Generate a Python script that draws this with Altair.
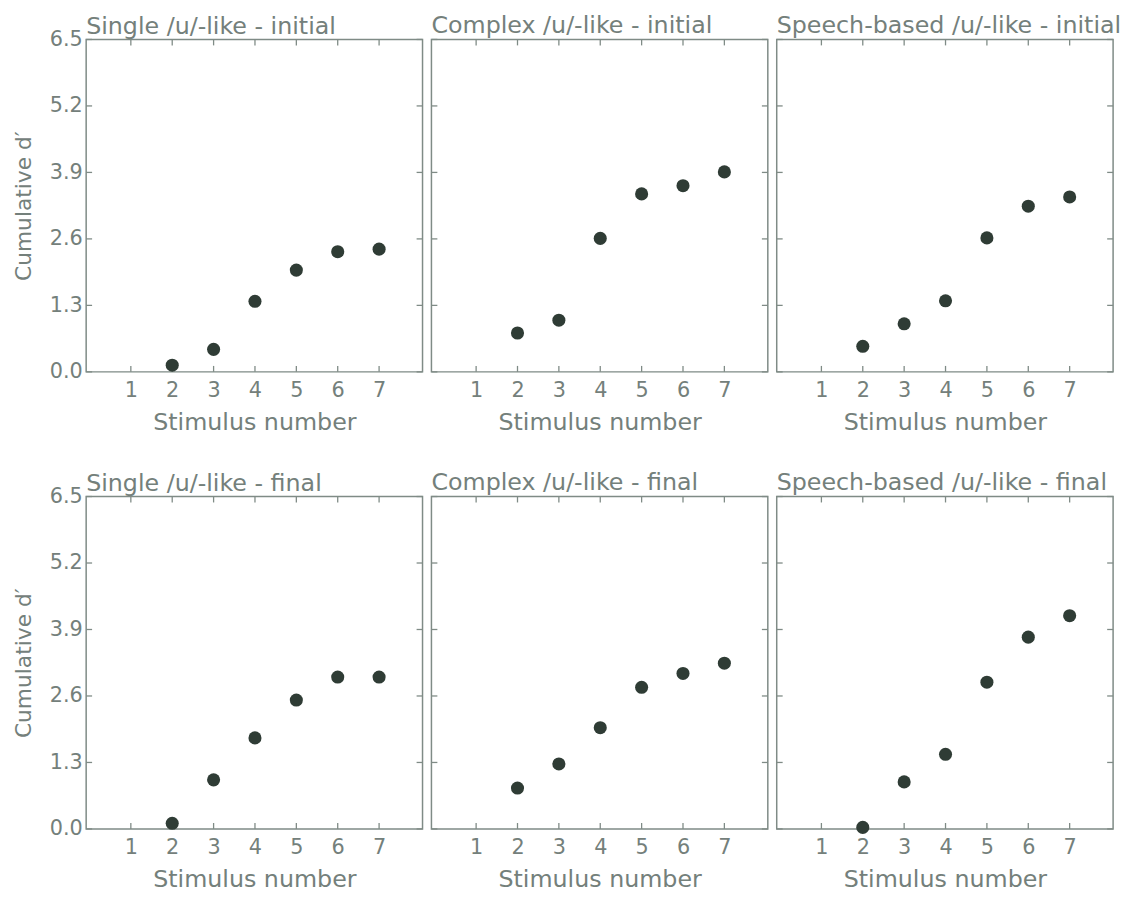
import altair as alt
import pandas as pd

stimulus = [2, 3, 4, 5, 6, 7]
single_initial = [0.13, 0.44, 1.38, 1.99, 2.35, 2.40]
complex_initial = [0.76, 1.01, 2.61, 3.48, 3.64, 3.91]
speech_initial = [0.50, 0.94, 1.39, 2.62, 3.24, 3.42]
single_final = [0.11, 0.96, 1.78, 2.52, 2.97, 2.97]
complex_final = [0.80, 1.27, 1.98, 2.77, 3.04, 3.24]
speech_final = [0.03, 0.92, 1.46, 2.87, 3.75, 4.17]

panel_titles = [
    "Single /u/-like - initial", "Complex /u/-like - initial", "Speech-based /u/-like - initial",
    "Single /u/-like - final", "Complex /u/-like - final", "Speech-based /u/-like - final",
]
panel_values = [single_initial, complex_initial, speech_initial,
                single_final, complex_final, speech_final]

x_ticks = [1, 2, 3, 4, 5, 6, 7]
y_ticks = [0.0, 1.3, 2.6, 3.9, 5.2, 6.5]

W, H = 340, 336
TL = 6
TEXT = "#74807b"
BORDER = "#7f8b86"
DOT = "#2f3c35"
FONT = "DejaVu Sans"

xscale = alt.Scale(domain=[-0.08, 8.05], nice=False, zero=False)
yscale = alt.Scale(domain=[0, 6.5], nice=False, zero=False)

xt = pd.DataFrame({"t": x_ticks})
yt = pd.DataFrame({"v": y_ticks})


def panel(title, vals, show_y):
    xaxis = alt.Axis(values=x_ticks, title="Stimulus number", format="d",
                     labelPadding=8, titlePadding=10)
    if show_y:
        yaxis = alt.Axis(values=y_ticks, title="Cumulative d′", format=".1f",
                         labelPadding=4, titlePadding=14, titleFontSize=22)
    else:
        yaxis = None
    df = pd.DataFrame({"x": stimulus, "y": vals})
    pts = alt.Chart(df).mark_circle(size=175, color=DOT, opacity=1).encode(
        x=alt.X("x:Q", scale=xscale, axis=xaxis),
        y=alt.Y("y:Q", scale=yscale, axis=yaxis),
    )
    top = alt.Chart(xt).mark_rule(color=BORDER, strokeWidth=1.3).encode(
        x=alt.X("t:Q", scale=xscale, axis=xaxis), y=alt.value(0), y2=alt.value(TL))
    bot = alt.Chart(xt).mark_rule(color=BORDER, strokeWidth=1.3).encode(
        x=alt.X("t:Q", scale=xscale, axis=xaxis), y=alt.value(H), y2=alt.value(H - TL))
    left = alt.Chart(yt).mark_rule(color=BORDER, strokeWidth=1.3).encode(
        y=alt.Y("v:Q", scale=yscale, axis=yaxis), x=alt.value(0), x2=alt.value(TL))
    right = alt.Chart(yt).mark_rule(color=BORDER, strokeWidth=1.3).encode(
        y=alt.Y("v:Q", scale=yscale, axis=yaxis), x=alt.value(W), x2=alt.value(W - TL))
    return alt.layer(top, bot, left, right, pts).properties(
        width=W, height=H,
        title=alt.TitleParams(title, anchor="start", frame="group", fontSize=24, font=FONT,
                              color=TEXT, fontWeight="normal",
                              offset=(-10 if show_y else 1)),
    )


rows = []
for r in range(2):
    charts = [panel(panel_titles[r * 3 + c], panel_values[r * 3 + c], c == 0) for c in range(3)]
    rows.append(alt.hconcat(*charts, spacing=5))

chart = alt.vconcat(
    *rows, spacing=35, background="white",
    padding={"left": 3, "top": 0, "right": 0, "bottom": 0},
).configure_view(
    stroke=BORDER, strokeWidth=1.5
).configure_axis(
    labelFont=FONT, labelFontSize=21, labelColor=TEXT,
    titleFont=FONT, titleFontSize=24, titleColor=TEXT, titleFontWeight="normal",
    tickSize=0, domain=False, grid=False,
)

chart.save("out.html", embed_options={"renderer": "svg", "actions": False})
